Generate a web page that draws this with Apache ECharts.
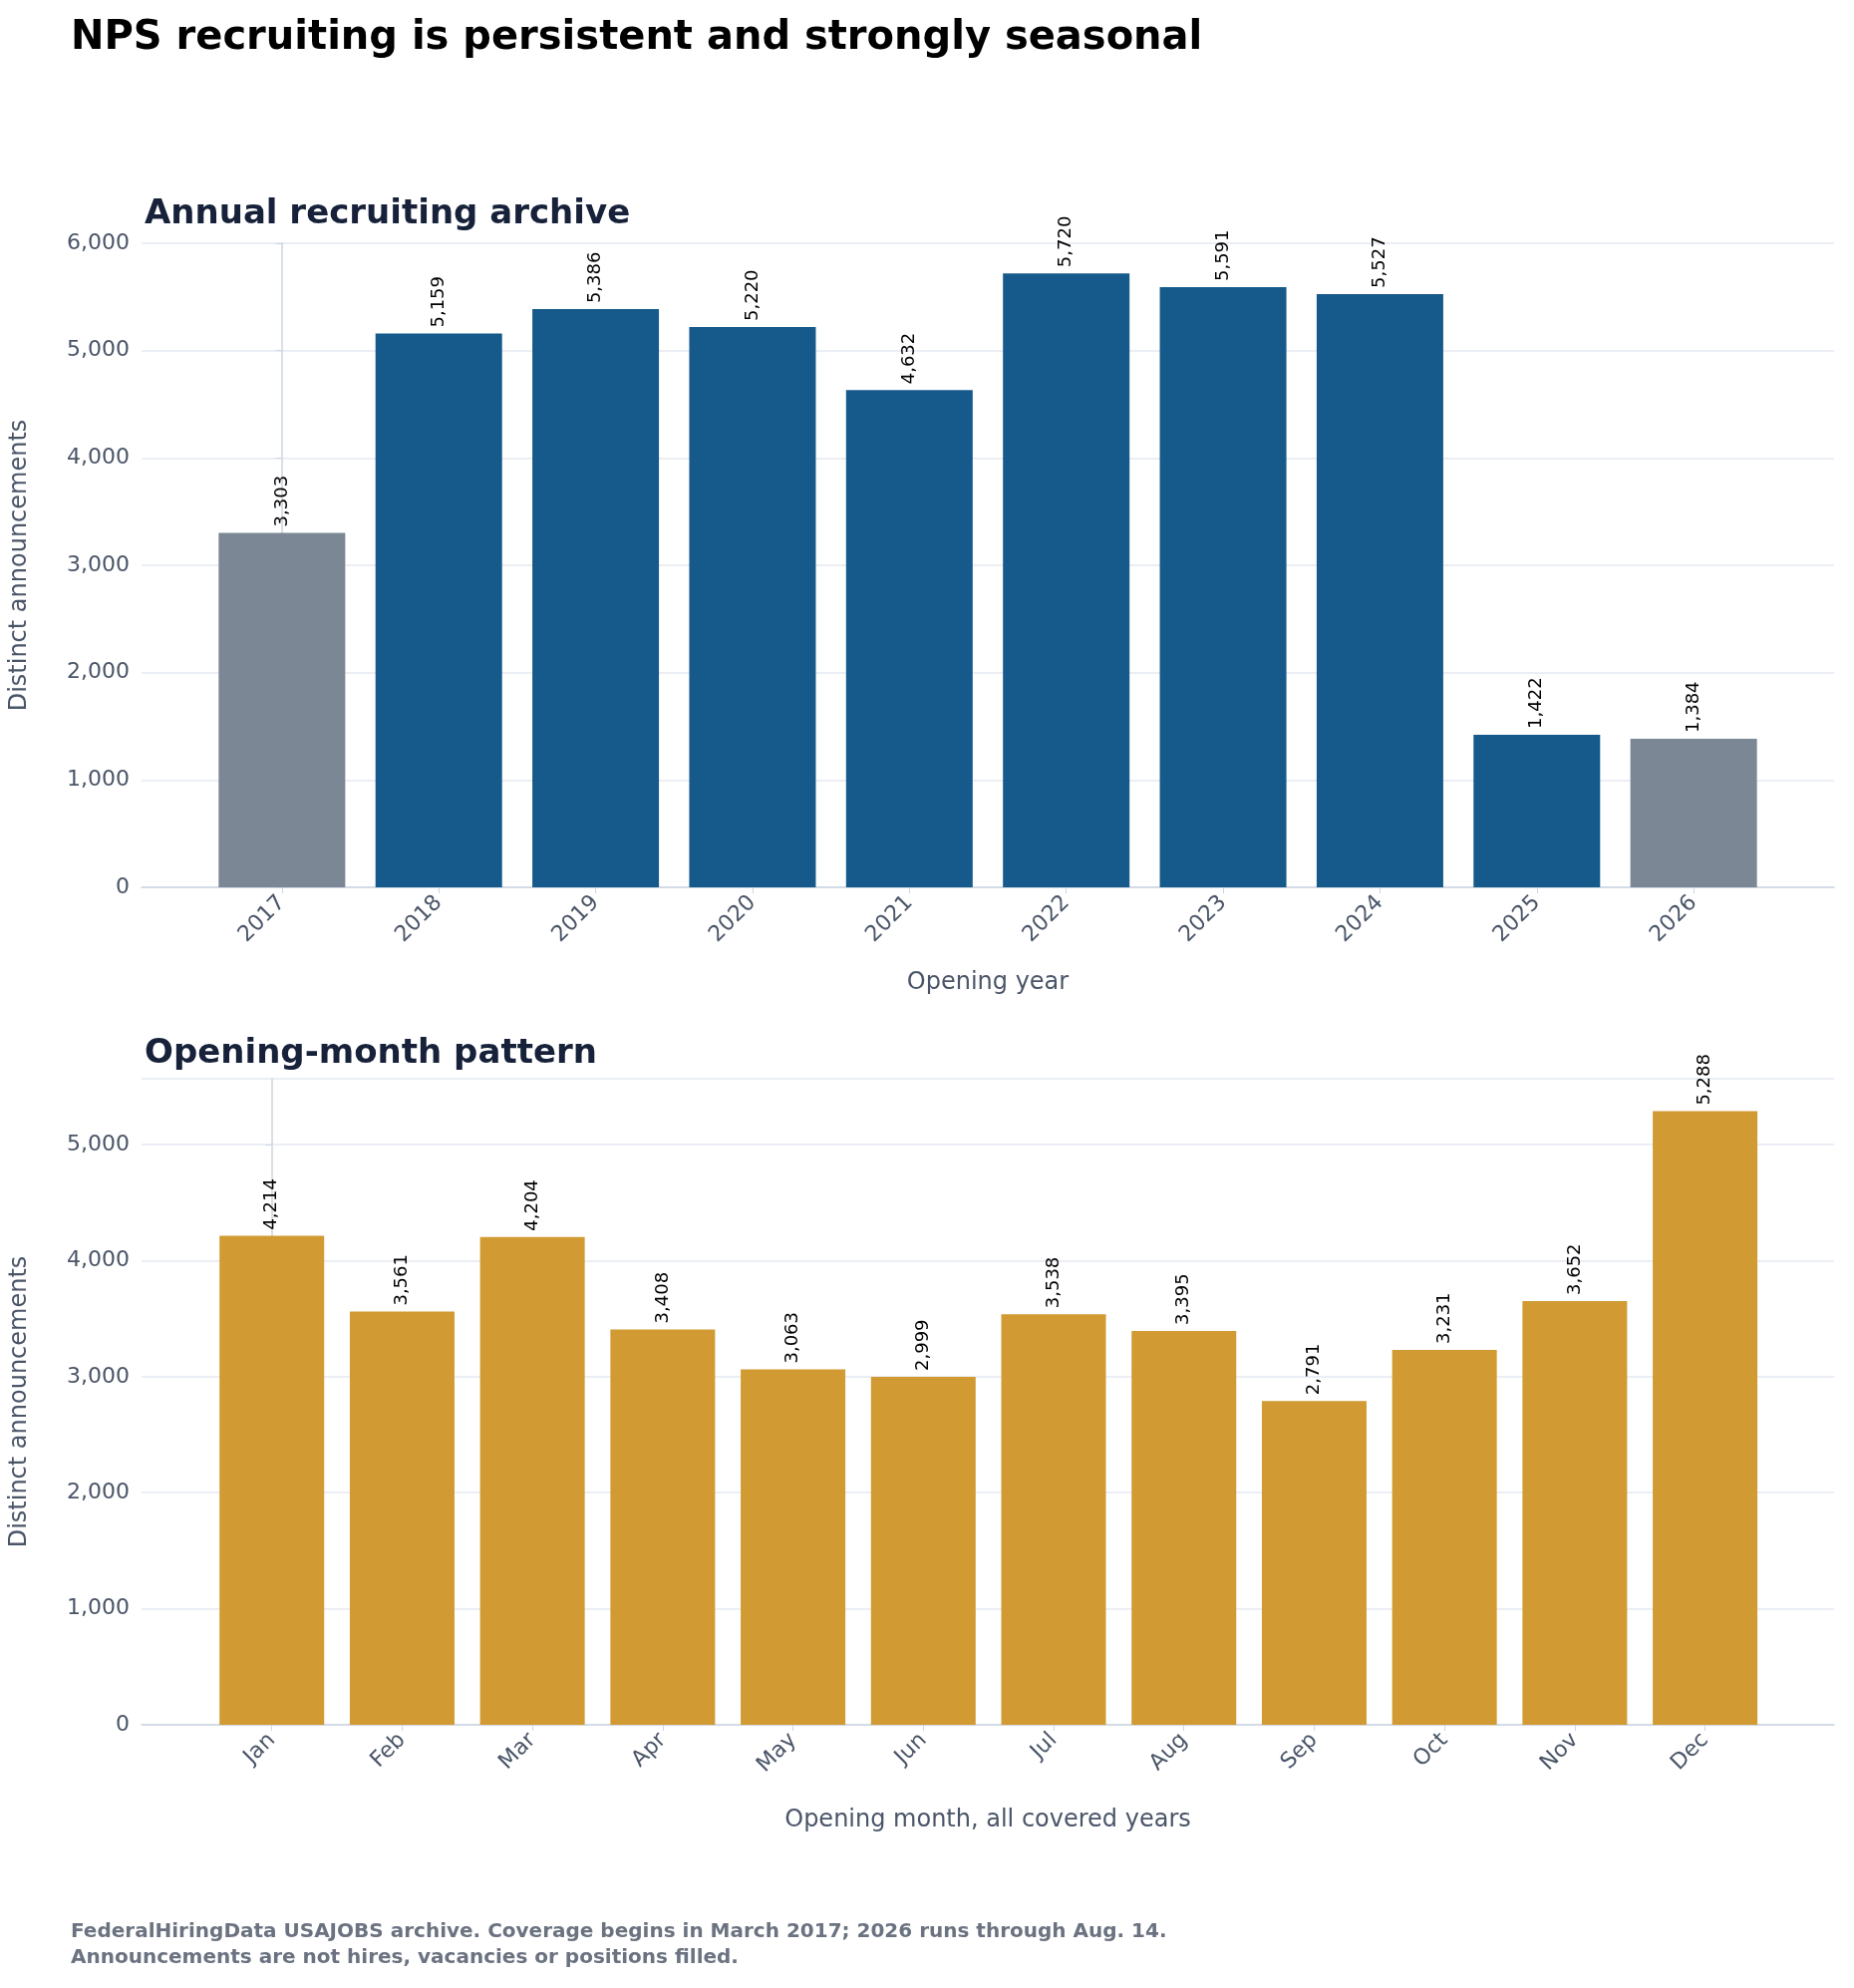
<!DOCTYPE html>
<html><head><meta charset="utf-8">
<script src="https://cdn.jsdelivr.net/npm/echarts@6/dist/echarts.min.js"></script>
<style>html,body{margin:0;padding:0;background:#fff}#c{width:1860px;height:1994px}</style>
</head><body><div id="c"></div>
<script>
const years = ['2017','2018','2019','2020','2021','2022','2023','2024','2025','2026'];
const yearValues = [3303,5159,5386,5220,4632,5720,5591,5527,1422,1384];
const partialYears = ['2017','2026'];
const months = ['Jan','Feb','Mar','Apr','May','Jun','Jul','Aug','Sep','Oct','Nov','Dec'];
const monthValues = [4214,3561,4204,3408,3063,2999,3538,3395,2791,3231,3652,5288];
const yTicksTop = [0,1000,2000,3000,4000,5000,6000];

const F = 'DejaVu Sans';
const fmt = v => v.toLocaleString('en-US');
const axisCol = '#cbd5e1', txt = '#4a5568', grid = '#e5e9f0';

function xAxis(idx, names, min, max, title, gap) {
  const vals = names.map((_, i) => i);
  return {
    gridIndex: idx, type: 'value', min, max,
    name: title, nameLocation: 'middle', nameGap: gap,
    nameTextStyle: {fontFamily: F, fontSize: 24, color: txt},
    axisLine: {show: true, lineStyle: {color: axisCol, width: 1.5}},
    axisTick: {show: true, customValues: vals, length: 6, lineStyle: {color: axisCol}},
    axisLabel: {customValues: vals, rotate: 45, margin: 12, fontFamily: F, fontSize: 22, color: txt,
      formatter: v => names[Math.round(v)]},
    splitLine: {show: false}
  };
}
function yAxis(idx, max) {
  return {
    gridIndex: idx, type: 'value', min: 0, max, interval: 1000,
    name: 'Distinct announcements', nameLocation: 'middle', nameGap: 110,
    nameTextStyle: {fontFamily: F, fontSize: 24, color: txt},
    axisLine: {show: true, lineStyle: {color: axisCol, width: 1.5}},
    axisTick: {show: true, length: 6, lineStyle: {color: axisCol}},
    axisLabel: {fontFamily: F, fontSize: 22, color: txt, margin: 12, showMaxLabel: max % 1000 === 0},
    splitLine: {show: true, showMaxLine: true, lineStyle: {color: grid, width: 1.5}}
  };
}
const lbl = {show: true, position: 'top', rotate: 90, align: 'left', verticalAlign: 'middle', distance: 6,
  fontFamily: F, fontSize: 18, color: '#000', formatter: p => fmt(p.value[1])};

const chart = echarts.init(document.getElementById('c'));
chart.setOption({
  animation: false,
  backgroundColor: '#fff',
  title: [
    {text: 'NPS recruiting is persistent and strongly seasonal', left: 66, top: 14,
      textStyle: {fontFamily: F, fontSize: 40, fontWeight: 'bold', color: '#000'}},
    {text: 'Annual recruiting archive', left: 140, top: 193,
      textStyle: {fontFamily: F, fontSize: 34, fontWeight: 'bold', color: '#17223a'}},
    {text: 'Opening-month pattern', left: 140, top: 1035,
      textStyle: {fontFamily: F, fontSize: 34, fontWeight: 'bold', color: '#17223a'}},
    {text: 'FederalHiringData USAJOBS archive. Coverage begins in March 2017; 2026 runs through Aug. 14.\nAnnouncements are not hires, vacancies or positions filled.',
      left: 66, top: 1920, textStyle: {fontFamily: F, fontSize: 20, color: '#6b7280', lineHeight: 26}}
  ],
  grid: [
    {left: 140, right: 20, top: 244, height: 646},
    {left: 140, right: 20, top: 1082, height: 648}
  ],
  xAxis: [
    xAxis(0, years, -0.895, 9.895, 'Opening year', 84),
    xAxis(1, months, -1.0, 11.99, 'Opening month, all covered years', 84)
  ],
  yAxis: [yAxis(0, 6000), yAxis(1, 5568)],
  series: [
    {type: 'bar', xAxisIndex: 0, yAxisIndex: 0, barWidth: 127, label: lbl,
      data: years.map((y, i) => ({value: [i, yearValues[i]],
        itemStyle: {color: partialYears.includes(y) ? '#7b8794' : '#155a8a'}}))},
    {type: 'bar', xAxisIndex: 1, yAxisIndex: 1, barWidth: 105, label: lbl,
      itemStyle: {color: '#d19a32'},
      data: months.map((m, i) => [i, monthValues[i]])}
  ]
});
</script></body></html>
